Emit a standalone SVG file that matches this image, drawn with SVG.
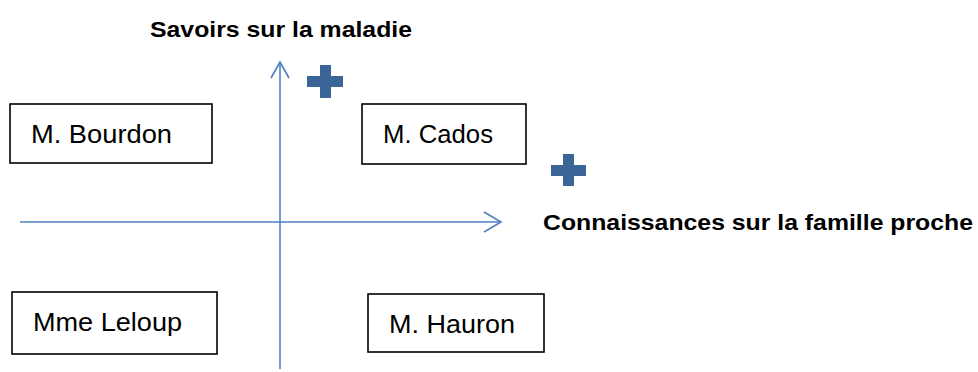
<svg xmlns="http://www.w3.org/2000/svg" width="978" height="372" viewBox="0 0 978 372">
<style>
.box{fill:#fff;stroke:#000;stroke-width:1.6}
.lbl{font-family:"Liberation Sans",Arial,sans-serif;font-size:25px;fill:#000}
.ax{font-family:"Liberation Sans",Arial,sans-serif;font-size:22px;font-weight:bold;fill:#000}
.axis{fill:none;stroke:#4F81BD;stroke-width:1.6}
.plus{fill:#3B6497}
</style>
<rect width="978" height="372" fill="#fff"/>
<g id="connectors">
<line class="axis" x1="280" y1="369" x2="280" y2="62"/>
<polyline class="axis" points="271,78 280,62 289,78"/>
<line class="axis" x1="20" y1="222" x2="501" y2="222"/>
<polyline class="axis" points="484,212 501,222 484,232"/>
</g>
<g id="axis-y-label"><text class="ax" x="150" y="36.5" textLength="262" lengthAdjust="spacingAndGlyphs">Savoirs sur la maladie</text></g>
<g id="axis-x-label"><text class="ax" x="543" y="230" textLength="430" lengthAdjust="spacingAndGlyphs">Connaissances sur la famille proche</text></g>
<g id="plus-y" class="plus"><rect x="320" y="65" width="11" height="33"/><rect x="307" y="76" width="36" height="11"/></g>
<g id="plus-x" class="plus"><rect x="563" y="154" width="11" height="32"/><rect x="551" y="165" width="35" height="11"/></g>
<g id="bourdon"><rect class="box" x="10" y="104" width="202" height="59"/><text class="lbl" x="31" y="143" textLength="141" lengthAdjust="spacingAndGlyphs">M. Bourdon</text></g>
<g id="cados"><rect class="box" x="362" y="104" width="164" height="60"/><text class="lbl" x="383" y="143" textLength="110" lengthAdjust="spacingAndGlyphs">M. Cados</text></g>
<g id="leloup"><rect class="box" x="12" y="292" width="205" height="62"/><text class="lbl" x="33" y="331" textLength="149" lengthAdjust="spacingAndGlyphs">Mme Leloup</text></g>
<g id="hauron"><rect class="box" x="368" y="294" width="176" height="58"/><text class="lbl" x="389" y="333" textLength="126" lengthAdjust="spacingAndGlyphs">M. Hauron</text></g>
</svg>
